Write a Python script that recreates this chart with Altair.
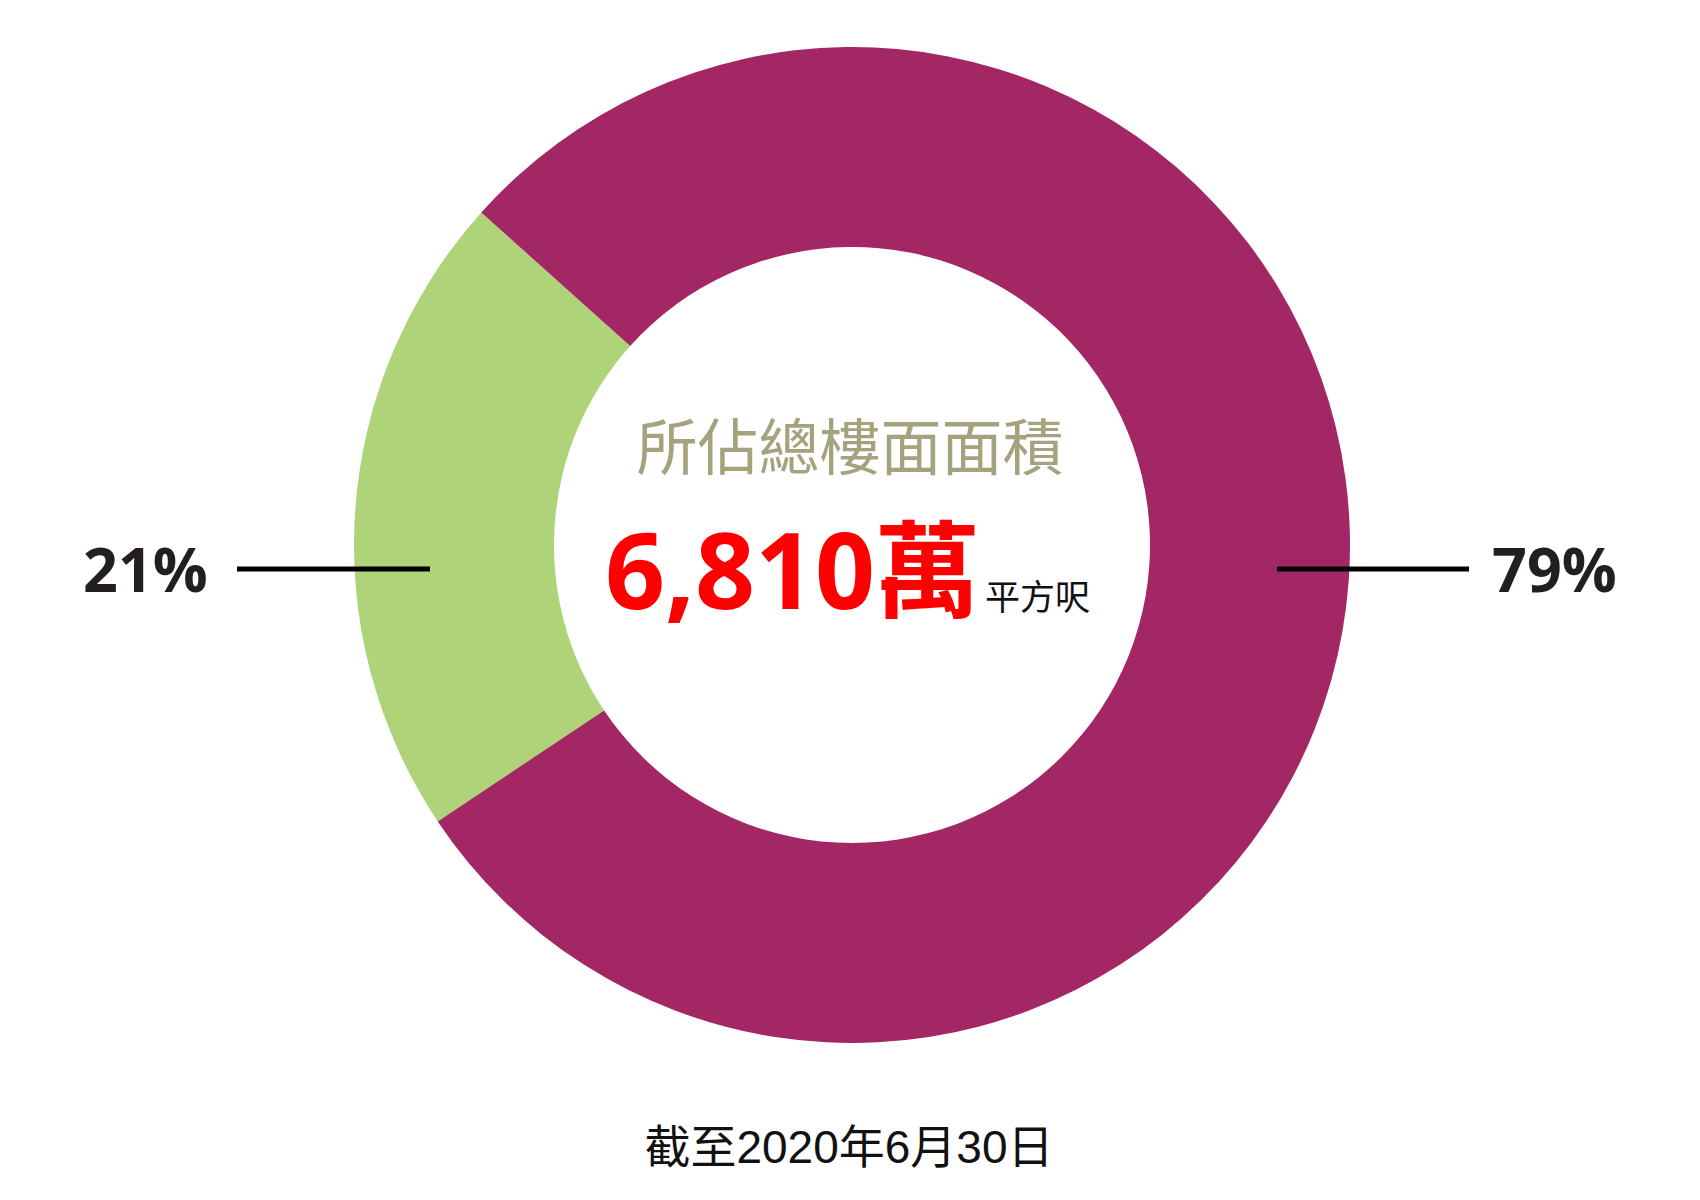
import altair as alt
import pandas as pd

# ---- data ----
categories = ["其他", "所佔"]
values = [21, 79]
colors = ["#AFD378", "#A32764"]
pct_labels = ["21%", "79%"]

title_text = "所佔總樓面面積"
big_number = "6,810萬"
unit_text = "平方呎"
footnote = "截至2020年6月30日"

START = 4.124  # rotation of the first slice (radians)

W, H = 1684, 1184
CX, CY = 844, 537

df = pd.DataFrame({"cat": categories, "val": values, "order": [0, 1]})

donut = alt.Chart(df).mark_arc(outerRadius=498, innerRadius=298, strokeWidth=0).encode(
    theta=alt.Theta("val:Q", stack=True,
                    scale=alt.Scale(range=[START, START + 2 * 3.14159265])),
    color=alt.Color("cat:N", scale=alt.Scale(domain=categories, range=colors), legend=None),
    order=alt.Order("order:Q"),
    x=alt.value(CX), y=alt.value(CY),
)

lab_df = pd.DataFrame({"lab": pct_labels, "px": [75, 1484]})
pct = alt.Chart(lab_df).mark_text(
    font="Open Sans", fontWeight="bold", fontSize=61, align="left",
    baseline="alphabetic", color="#231F20"
).encode(text="lab:N", x=alt.X("px:Q", scale=None), y=alt.value(584))

line_df = pd.DataFrame({"x1": [229, 1269], "x2": [422, 1461]})
lines = alt.Chart(line_df).mark_rule(color="#000000", strokeWidth=5).encode(
    x=alt.X("x1:Q", scale=None), x2="x2:Q", y=alt.value(561)
)

def txt(s, **kw):
    return alt.Chart(pd.DataFrame({"t": [s]})).mark_text(**kw).encode(text="t:N")

title = txt(title_text, font="Noto Sans CJK TC", fontSize=61,
            color="#A5A27E", align="center", baseline="middle").encode(
    x=alt.value(842), y=alt.value(444))
number = txt(big_number, font="'Open Sans', 'Noto Sans CJK TC'", fontWeight="bold",
             fontSize=105, color="#FF0000", align="left",
             baseline="alphabetic").encode(x=alt.value(597), y=alt.value(601))
unit = txt(unit_text, font="Noto Sans CJK TC", fontSize=35, color="#111111",
           align="left", baseline="alphabetic").encode(x=alt.value(977), y=alt.value(602))
foot = txt(footnote, font="'Liberation Sans', 'Noto Sans CJK TC'", fontSize=46,
           color="#111111", align="center", baseline="middle").encode(
    x=alt.value(841), y=alt.value(1141))

chart = alt.layer(donut, lines, pct, title, number, unit, foot).properties(
    width=W, height=H, autosize=alt.AutoSizeParams(type="none"), padding=0
).configure_view(stroke=None)

chart.save("out.html", embed_options={"renderer": "svg", "actions": False})
